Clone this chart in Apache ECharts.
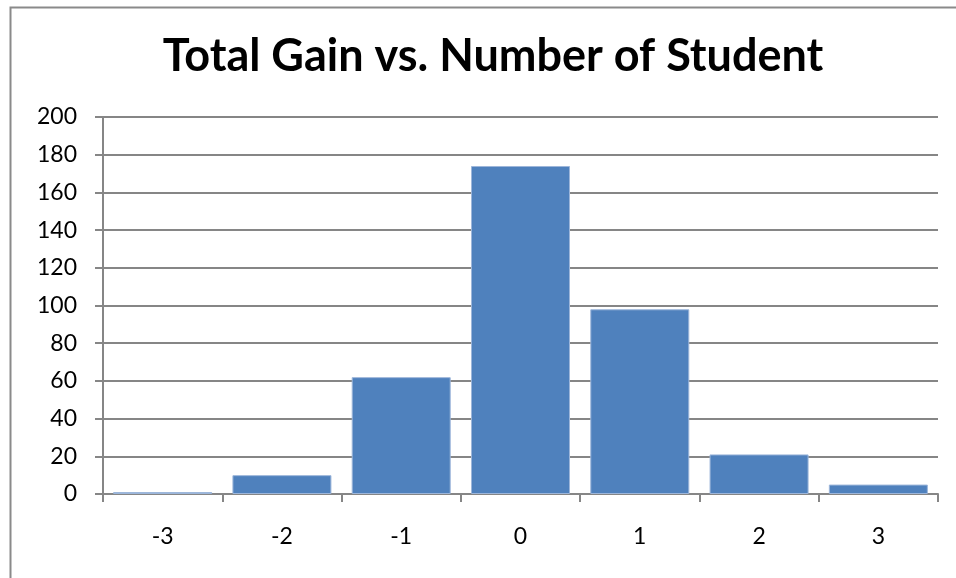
<!DOCTYPE html>
<html>
<head>
<meta charset="utf-8">
<script src="https://cdn.jsdelivr.net/npm/echarts@6/dist/echarts.min.js"></script>
<style>html,body{margin:0;padding:0;background:#fff;}#c{width:956px;height:578px;}</style>
</head>
<body>
<div id="c"></div>
<script>
const categories = ['-3', '-2', '-1', '0', '1', '2', '3'];
const students = [1, 10, 62, 174, 98, 21, 5];
const yTicks = { min: 0, max: 200, interval: 20 };

const chart = echarts.init(document.getElementById('c'), null, { renderer: 'canvas' });
chart.setOption({
  animation: false,
  backgroundColor: '#fff',
  title: {
    text: 'Total Gain vs. Number of Student',
    left: 488, top: 29, textAlign: 'center',
    textStyle: { fontFamily: 'Lato', fontWeight: 'bold', fontSize: 45, color: '#000' }
  },
  graphic: [{
    type: 'rect', left: 8, top: 5, silent: true,
    shape: { width: 1000, height: 1000 },
    style: { fill: 'none', stroke: '#8a8a8a', lineWidth: 2 }
  }],
  grid: { left: 103, right: 18, top: 117, bottom: 84, containLabel: false },
  xAxis: {
    type: 'category', data: categories,
    axisLine: { lineStyle: { color: '#868686', width: 2 } },
    axisTick: { show: true, alignWithLabel: false, length: 8, lineStyle: { color: '#868686', width: 2 } },
    axisLabel: { color: '#000', fontFamily: 'Lato', fontSize: 23, margin: 31 }
  },
  yAxis: {
    type: 'value', min: yTicks.min, max: yTicks.max, interval: yTicks.interval,
    axisLine: { show: true, lineStyle: { color: '#868686', width: 2 } },
    axisTick: { show: true, length: 8, lineStyle: { color: '#868686', width: 2 } },
    axisLabel: { color: '#000', fontFamily: 'Lato', fontSize: 23, margin: 26 },
    splitLine: { show: true, lineStyle: { color: '#868686', width: 2 } }
  },
  series: [{
    type: 'bar', data: students, barCategoryGap: '17%',
    itemStyle: { color: '#4F81BD', borderColor: '#9db6da', borderWidth: 1 }
  }]
});
</script>
</body>
</html>
